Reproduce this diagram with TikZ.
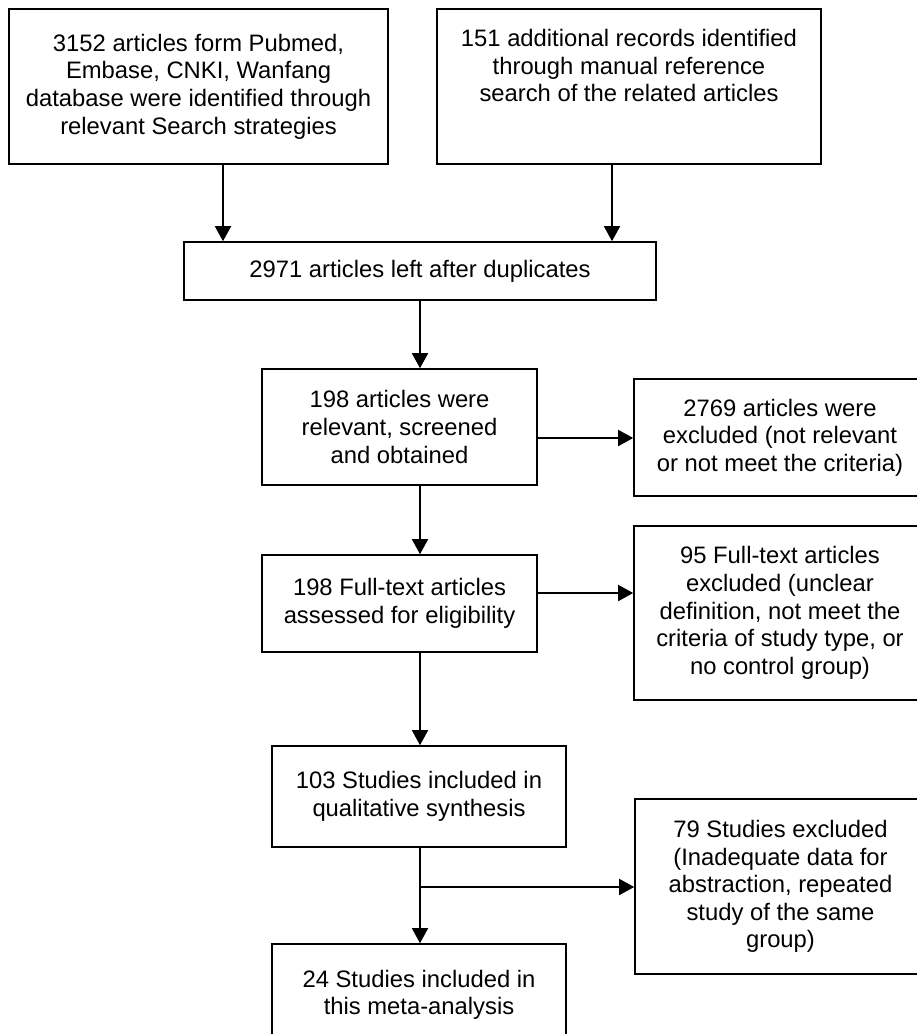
\documentclass[tikz,border=0pt]{standalone}
\usepackage{fontspec}
\setmainfont{Liberation Sans}
\usepackage{tikz}
\usetikzlibrary{arrows.meta, positioning}
\tikzstyle{box}=[shape=rectangle, draw=black, line width=1.6pt, fill=white, align=center, inner sep=0pt, font=\fontsize{23.8pt}{27.6pt}\selectfont]
\tikzstyle{txt}=[align=center, inner sep=0pt, font=\fontsize{23.8pt}{27.6pt}\selectfont]
\tikzstyle{arr}=[line width=1.6pt, -{Triangle[length=15pt,width=16pt]}]

\begin{document}
\begin{tikzpicture}[x=1pt,y=-1pt]
\useasboundingbox (0,0) rectangle (917,1034);
\node[box, minimum width=379pt, minimum height=155pt] (src1) at (198.5,86.5) {3152 articles form Pubmed,\\ Embase, CNKI, Wanfang\\ database were identified through\\ relevant Search strategies};
\node[box, minimum width=384pt, minimum height=155pt] (src2) at (629,86.5) {};
\node[txt, below=21pt of src2.north] (src2t) {151 additional records identified\\ through manual reference\\ search of the related articles};
\node[box, minimum width=472pt, minimum height=58pt] (dup) at (420,271) {2971 articles left after duplicates};
\node[box, minimum width=275pt, minimum height=116pt] (scr) at (399.5,427) {198 articles were\\ relevant, screened\\ and obtained};
\node[box, minimum width=275pt, minimum height=97pt] (full) at (399.5,603.5) {198 Full-text articles\\ assessed for eligibility};
\node[box, minimum width=294pt, minimum height=101pt] (qual) at (419,796.5) {103 Studies included in\\ qualitative synthesis};
\node[box, minimum width=294pt, minimum height=102pt] (meta) at (419,995) {24 Studies included in\\ this meta-analysis};
%excluded
\node[box, minimum width=292pt, minimum height=117pt] (ex1) at (780,437.5) {2769 articles were\\ excluded (not relevant\\ or not meet the criteria)};
\node[box, minimum width=292pt, minimum height=174pt] (ex2) at (780,613) {95 Full-text articles\\ excluded (unclear\\ definition, not meet the\\ criteria of study type, or\\ no control group)};
\node[box, minimum width=291pt, minimum height=175pt] (ex3) at (780.5,886.5) {79 Studies excluded\\ (Inadequate data for\\ abstraction, repeated\\ study of the same\\ group)};
%arrows
\draw[arr] (223,0 |- src1.south) -- (223,0 |- dup.north);
\draw[arr] (612,0 |- src2.south) -- (612,0 |- dup.north);
\foreach \a/\b in {dup/scr, scr/full, full/qual, qual/meta}{
\draw[arr] (420,0 |- \a.south) -- (420,0 |- \b.north);
}
\foreach \a/\b/\y in {scr/ex1/438, full/ex2/593}{
\draw[arr] (\a.east |- 0,\y) -- (\b.west |- 0,\y);
}
\coordinate (br) at (420,887);
\draw[arr] (br) -- (ex3.west |- br);
\end{tikzpicture}
\end{document}
